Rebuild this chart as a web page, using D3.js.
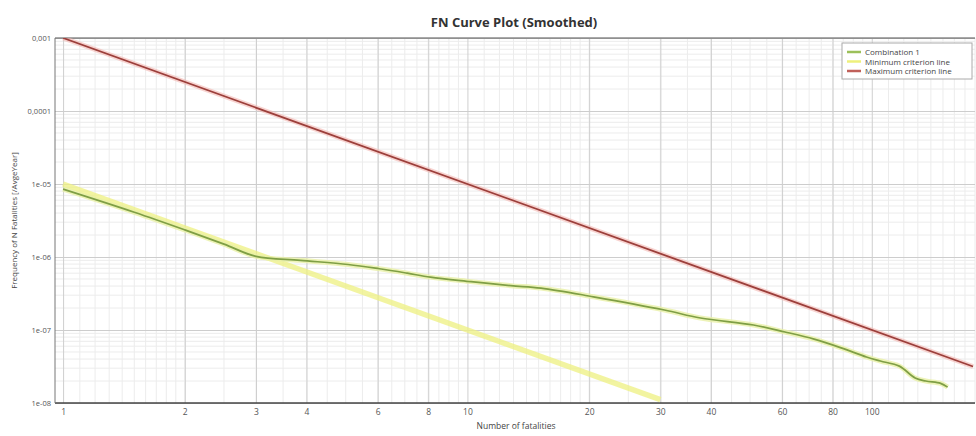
<!DOCTYPE html>
<html>
<head>
<meta charset="utf-8">
<script src="https://cdn.jsdelivr.net/npm/d3@7"></script>
<style>
  html, body { margin: 0; padding: 0; background: #fff; }
  svg { display: block; font-family: "Open Sans", "DejaVu Sans", sans-serif; }
</style>
</head>
<body>
<div id="chart"></div>
<script>
// ── data ──────────────────────────────────────────────────
const xTicks      = [1, 2, 3, 4, 6, 8, 10, 20, 30, 40, 60, 80, 100];
const yTicks      = [1e-3, 1e-4, 1e-5, 1e-6, 1e-7, 1e-8];
const yTickLabels = ["0,001", "0,0001", "1e-05", "1e-06", "1e-07", "1e-08"];

const combN = [1, 1.5, 2, 2.5, 3, 3.86, 5.07, 6.06, 7.1, 8.1, 10.2, 12.8, 15.2, 20.5,
               30.7, 37.7, 51, 61, 72, 84, 97, 105, 117, 128, 136, 148, 154];
const combF = [8.5e-6, 4.1e-6, 2.35e-6, 1.5e-6, 1.02e-6, 9.0e-7, 7.9e-7, 6.9e-7, 6.0e-7,
               5.3e-7, 4.6e-7, 4.05e-7, 3.75e-7, 2.85e-7, 1.88e-7, 1.46e-7, 1.17e-7,
               9.4e-8, 7.5e-8, 5.7e-8, 4.27e-8, 3.76e-8, 3.2e-8, 2.2e-8, 2.0e-8, 1.86e-8, 1.65e-8];

const minN = [1, 30];
const minF = [1e-5, 1.11e-8];
const maxN = [1, 178];
const maxF = [1e-3, 3.16e-8];

const seriesNames = ["Combination 1", "Minimum criterion line", "Maximum criterion line"];

// ── layout ────────────────────────────────────────────────
const W = 976, H = 436;
const PLOT = { left: 55, right: 975, top: 38, bottom: 403 };

const svg = d3.select("#chart").append("svg").attr("width", W).attr("height", H);

const x = d3.scaleLog().domain([0.955, 180]).range([PLOT.left, PLOT.right]);
const y = d3.scaleLog().domain([1e-8, 1e-3]).range([PLOT.bottom, PLOT.top]);

// Title
svg.append("text").attr("x", 514).attr("y", 27).attr("text-anchor", "middle")
  .attr("font-size", 13).attr("font-weight", "bold").attr("fill", "#333")
  .text("FN Curve Plot (Smoothed)");

// ── grid ──────────────────────────────────────────────────
const xMinor = [];
[1, 10, 100].forEach(dec => {
  for (let m = 1.1; m < 2; m += 0.1) xMinor.push(dec * m);
  for (let m = 2; m < 10; m += 0.5) xMinor.push(dec * m);
});
const yMinor = [];
[1e-8, 1e-7, 1e-6, 1e-5, 1e-4].forEach(dec => {
  for (let m = 2; m < 10; m++) yMinor.push(dec * m);
});

const grid = svg.append("g");
grid.selectAll(".vx").data(xMinor.filter(v => x(v) <= PLOT.right)).join("line")
  .attr("x1", d => x(d)).attr("x2", d => x(d)).attr("y1", PLOT.top).attr("y2", PLOT.bottom)
  .attr("stroke", "#ececec").attr("stroke-width", 1);
grid.selectAll(".hy").data(yMinor).join("line")
  .attr("x1", PLOT.left).attr("x2", PLOT.right).attr("y1", d => y(d)).attr("y2", d => y(d))
  .attr("stroke", "#ececec").attr("stroke-width", 1);

// major grid via axes
svg.append("g").attr("transform", `translate(0,${PLOT.bottom})`)
  .call(d3.axisBottom(x).tickValues(xTicks).tickSize(-(PLOT.bottom - PLOT.top)).tickFormat(""))
  .call(ax => ax.select(".domain").remove())
  .call(ax => ax.selectAll("line").attr("stroke", "#cfcfcf"));
svg.append("g").attr("transform", `translate(${PLOT.left},0)`)
  .call(d3.axisLeft(y).tickValues(yTicks).tickSize(-(PLOT.right - PLOT.left)).tickFormat(""))
  .call(ax => ax.select(".domain").remove())
  .call(ax => ax.selectAll("line").attr("stroke", "#cdcdcd"));

// frame
svg.append("line").attr("x1", PLOT.left).attr("x2", PLOT.right)
  .attr("y1", PLOT.top).attr("y2", PLOT.top).attr("stroke", "#555").attr("stroke-width", 1.2);
svg.append("line").attr("x1", PLOT.left).attr("x2", PLOT.right)
  .attr("y1", PLOT.bottom).attr("y2", PLOT.bottom).attr("stroke", "#444").attr("stroke-width", 1.5);
svg.append("line").attr("x1", PLOT.left).attr("x2", PLOT.left)
  .attr("y1", PLOT.top).attr("y2", PLOT.bottom).attr("stroke", "#777").attr("stroke-width", 1);

// tick labels
svg.append("g").attr("transform", `translate(0,${PLOT.bottom})`)
  .call(d3.axisBottom(x).tickValues(xTicks).tickSize(0).tickPadding(6).tickFormat(d3.format("d")))
  .call(ax => ax.select(".domain").remove())
  .call(ax => ax.selectAll("text").attr("fill", "#555").attr("font-size", 8.5)
    .attr("font-family", "Open Sans, DejaVu Sans, sans-serif"));
svg.append("g").attr("transform", `translate(${PLOT.left},0)`)
  .call(d3.axisLeft(y).tickValues(yTicks).tickSize(0).tickPadding(4)
    .tickFormat((d, i) => yTickLabels[i]))
  .call(ax => ax.select(".domain").remove())
  .call(ax => ax.selectAll("text").attr("fill", "#555").attr("font-size", 7.5)
    .attr("font-family", "Open Sans, DejaVu Sans, sans-serif"));

// axis titles
svg.append("text").attr("x", 516).attr("y", 429).attr("text-anchor", "middle")
  .attr("font-size", 8.5).attr("fill", "#444").text("Number of fatalities");
svg.append("text").attr("transform", `translate(17,${(PLOT.top + PLOT.bottom) / 2}) rotate(-90)`)
  .attr("text-anchor", "middle").attr("font-size", 8).attr("fill", "#444")
  .text("Frequency of N Fatalities [/AvgeYear]");

// ── series ────────────────────────────────────────────────
svg.append("clipPath").attr("id", "plotclip").append("rect")
  .attr("x", PLOT.left).attr("y", PLOT.top)
  .attr("width", PLOT.right - PLOT.left).attr("height", PLOT.bottom - PLOT.top);
const g = svg.append("g").attr("clip-path", "url(#plotclip)");

const straight = d3.line().x(d => x(d[0])).y(d => y(d[1]));
const smooth   = d3.line().x(d => x(d[0])).y(d => y(d[1])).curve(d3.curveCatmullRom);

const minPts  = minN.map((n, i) => [n, minF[i]]);
const maxPts  = maxN.map((n, i) => [n, maxF[i]]);
const combPts = combN.map((n, i) => [n, combF[i]]);

// minimum criterion (broad yellow)
g.append("path").datum(minPts).attr("d", straight)
  .attr("fill", "none").attr("stroke", "#eef080").attr("stroke-width", 5.5).attr("opacity", 0.75);

// maximum criterion (dark red with pink halo)
g.append("path").datum(maxPts).attr("d", straight)
  .attr("fill", "none").attr("stroke", "#f3b7b2").attr("stroke-width", 5).attr("opacity", 0.6);
g.append("path").datum(maxPts).attr("d", straight)
  .attr("fill", "none").attr("stroke", "#9c3f3b").attr("stroke-width", 1.8);

// combination 1 (green with yellowish halo)
g.append("path").datum(combPts).attr("d", smooth)
  .attr("fill", "none").attr("stroke", "#e9f0a6").attr("stroke-width", 5).attr("opacity", 0.8);
g.append("path").datum(combPts).attr("d", smooth)
  .attr("fill", "none").attr("stroke", "#7f9f45").attr("stroke-width", 1.7);

// ── legend ────────────────────────────────────────────────
const lg = svg.append("g").attr("transform", "translate(842,43)");
lg.append("rect").attr("width", 130).attr("height", 36)
  .attr("fill", "#fff").attr("stroke", "#aaa").attr("stroke-width", 1);
const swatch = ["#9cc05a", "#eef07c", "#c0605a"];
seriesNames.forEach((name, i) => {
  const yy = 9 + i * 9.5;
  lg.append("line").attr("x1", 5).attr("x2", 19).attr("y1", yy).attr("y2", yy)
    .attr("stroke", swatch[i]).attr("stroke-width", 2.5);
  lg.append("text").attr("x", 23).attr("y", yy + 3).attr("font-size", 8)
    .attr("fill", "#444").text(name);
});
</script>
</body>
</html>
